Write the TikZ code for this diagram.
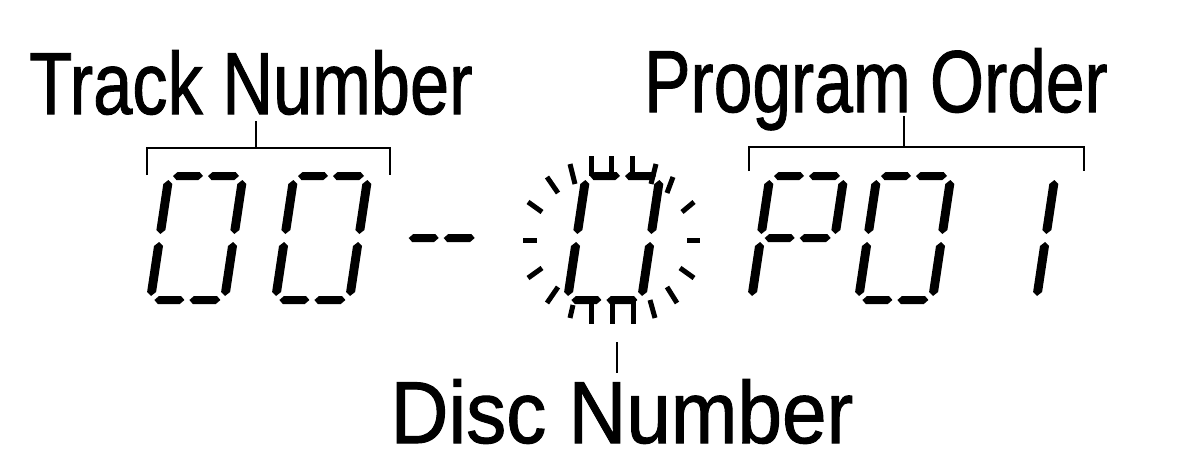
\documentclass[tikz,border=0pt]{standalone}
\usepackage{fontspec}
\setmainfont{Liberation Sans}
\newfontfamily\labelfont[FakeBold=1.2]{Liberation Sans}

% one display segment, as a bevelled bar (local, unslanted units)
\newcommand\hseg[3]{\fill[lcd] (#1,#3) -- (#1+4,#3-4) -- (#2-4,#3-4) -- (#2,#3) -- (#2-4,#3+4) -- (#1+4,#3+4) -- cycle;}
\newcommand\vseg[3]{\fill[lcd] (#1,#2) -- (#1+4.5,#2+4) -- (#1+4.5,#3-4) -- (#1,#3) -- (#1-4.5,#3-4) -- (#1-4.5,#2+4) -- cycle;}

% segments a..g, split horizontals
\newcommand\lcdA{\hseg{4}{34}{0}\hseg{39}{70}{0}}
\newcommand\lcdG{\hseg{4}{34}{62}\hseg{39}{70}{62}}
\newcommand\lcdD{\hseg{4}{34}{124}\hseg{39}{70}{124}}
\newcommand\lcdB{\vseg{74}{4}{58}}
\newcommand\lcdC{\vseg{74}{66}{120}}
\newcommand\lcdE{\vseg{0}{66}{120}}
\newcommand\lcdF{\vseg{0}{4}{58}}
\newcommand\lcdzero{\lcdA\lcdB\lcdC\lcdD\lcdE\lcdF}

\newcommand\lcddigit[2]{\begin{scope}[shift={(#1,176)}, xslant=0.15] #2 \end{scope}}

\tikzset{
  lcd/.style={fill=black},
  flash/.style={line width=5pt},
  bracket/.style={line width=2pt},
  label/.style={anchor=base, inner sep=0pt, font=\labelfont\fontsize{88}{96}\selectfont},
}

\begin{document}
\begin{tikzpicture}[x=1pt, y=-1pt]
	\useasboundingbox (0,0) rectangle (1197,452);

	% Labels
	\node[label] (track) at (251,114) {\scalebox{0.8}[1]{Track Number}};
	\node[label] (prog) at (876,112) {\scalebox{0.79}[1]{Program Order}};
	\node[label] (disc) at (622,443) {\scalebox{0.91}[1]{Disc Number}};

	% Track number
	\lcddigit{169}{\lcdzero}
	\lcddigit{294}{\lcdzero}

	% Separator
	\lcddigit{414}{\lcdG}

	% Disc number (flashing)
	\lcddigit{586}{\lcdzero}
	\foreach \xa/\ya/\xb/\yb in {523/240/537/240, 687/240/700/240,
		528/202/542/212, 547/177/558/193, 570/164/575/184,
		591/156/591/176, 611/156/611/176, 632/156/632/176, 656/164/651/184,
		673/177/667/193, 694/202/682/212,
		542/268/528/278, 558/287/547/303, 573/305/570/318,
		591/300/591/324, 612/300/612/324, 633/300/633/324, 650/300/655/318,
		680/268/694/278, 667/287/677/303}
		\draw[flash] (\xa,\ya) -- (\xb,\yb);

	% Program order
	\lcddigit{770}{\lcdA\lcdB\lcdE\lcdF\lcdG}
	\lcddigit{877}{\lcdzero}
	\lcddigit{981}{\lcdB\lcdC}

	% Brackets
	\coordinate (tnL) at (147,175);
	\coordinate (tnR) at (390,175);
	\coordinate (tnbar) at (256,148);
	\draw[bracket] (tnL) -- ++(0,-27) -| (tnR);
	\draw[bracket] ([yshift=-7pt]track.base -| tnbar) -- (tnbar);

	\coordinate (poL) at (749,171);
	\coordinate (poR) at (1084,171);
	\coordinate (pobar) at (904,147);
	\draw[bracket] (poL) -- ++(0,-24) -| (poR);
	\draw[bracket] ([yshift=-4pt]prog.base -| pobar) -- (pobar);

	\coordinate (dntick) at (617,342);
	\draw[bracket] (dntick) -- ([yshift=70pt]disc.base -| dntick);
\end{tikzpicture}
\end{document}
